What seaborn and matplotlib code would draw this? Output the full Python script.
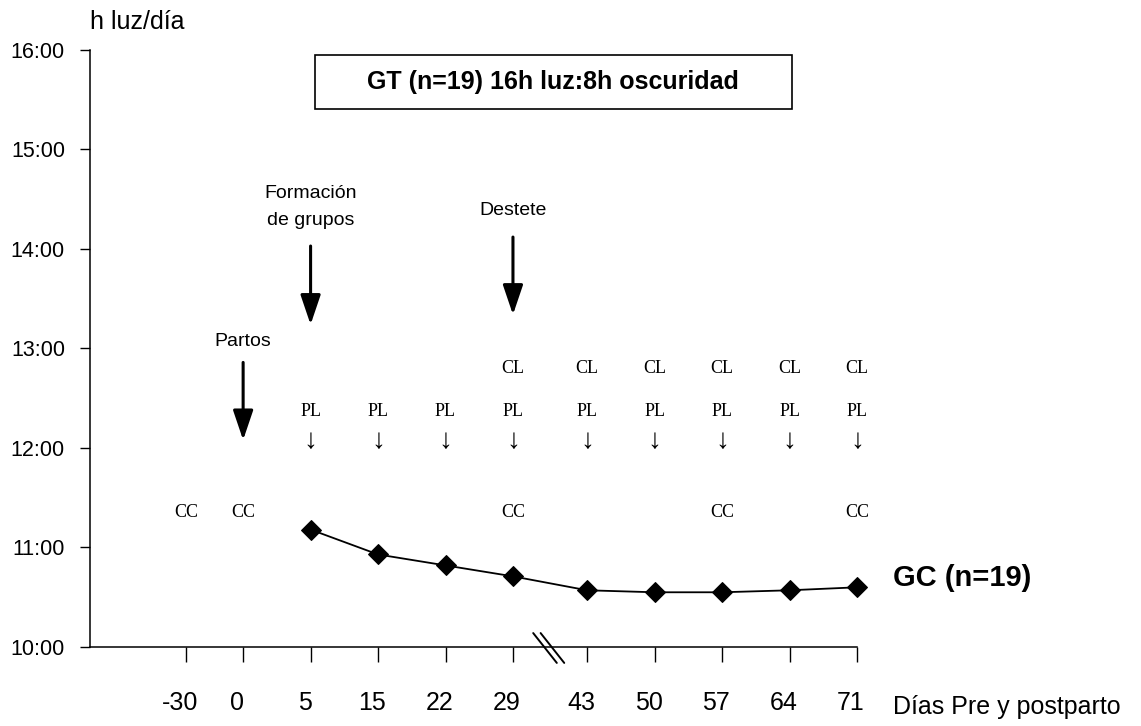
import numpy as np
import pandas as pd
import seaborn as sns
import matplotlib.pyplot as plt
from matplotlib.patches import Rectangle
from matplotlib.transforms import ScaledTranslation

# Days pre/postpartum shown on the x axis
days = ['-30', '0', '5', '15', '22', '29', '43', '50', '57', '64', '71']
# GC hours of light per day (decimal hours), measured from day 5 on
gc_days = ['5', '15', '22', '29', '43', '50', '57', '64', '71']
gc_hours = [11.18, 10.93, 10.82, 10.71, 10.57, 10.55, 10.55, 10.57, 10.60]
# sampling marks above the curve
cl_days = ['29', '43', '50', '57', '64', '71']
pl_days = ['5', '15', '22', '29', '43', '50', '57', '64', '71']
cc_days = ['-30', '0', '29', '57', '71']
hour_ticks = [10, 11, 12, 13, 14, 15, 16]

sns.set_style('ticks')
plt.rcParams['font.family'] = ['Liberation Sans', 'DejaVu Sans']
plt.rcParams['text.color'] = 'black'
plt.rcParams['xtick.color'] = 'black'
plt.rcParams['ytick.color'] = 'black'
plt.rcParams['axes.edgecolor'] = 'black'

# x layout: categorical slots, -30 a bit closer, small gap at the axis break
xpos = np.arange(len(days), dtype=float)
xpos[0] = 0.15
xpos[6:] += 0.1
xmap = dict(zip(days, xpos))

df = pd.DataFrame({'x': [xmap[d] for d in gc_days], 'h': gc_hours})

fig = plt.figure(figsize=(11.41, 7.26), dpi=100)
ax = fig.add_axes([90 / 1141, 79 / 726, 767 / 1141, 597 / 726])

sns.lineplot(data=df, x='x', y='h', marker='D', markersize=10, color='black',
             linewidth=1.3, markeredgecolor='black', ax=ax)
for ln in ax.lines:
    ln.set_clip_on(False)

ax.set_xlim(-1.27, xpos[-1])
ax.set_ylim(10, 16)
ax.set_xticks(xpos)
ax.set_xticklabels(days)
ax.set_yticks(hour_ticks)
ax.set_yticklabels([f'{h}:00' for h in hour_ticks])
ax.set_xlabel('')
ax.set_ylabel('')
sns.despine(ax=ax)
for s in ['left', 'bottom']:
    ax.spines[s].set_linewidth(1.1)
ax.tick_params(axis='x', length=11, width=1.0, pad=21, labelsize=18)
ax.tick_params(axis='y', length=7, width=1.0, pad=11, labelsize=15.5)
shift = ScaledTranslation(-6 / 100, 0, fig.dpi_scale_trans)
for lab in ax.get_xticklabels():
    lab.set_transform(lab.get_transform() + shift)

# axis titles
ax.text(0, 1.047, 'h luz/día', transform=ax.transAxes, ha='left', va='center', fontsize=18)
ax.text(10.63, -0.101, 'Días Pre y postparto', transform=ax.get_xaxis_transform(),
        ha='left', va='center', fontsize=18, clip_on=False)
ax.text(10.63, 10.69, 'GC (n=19)', ha='left', va='center', fontsize=21,
        fontweight='bold', clip_on=False)

# boxed title
ax.add_patch(Rectangle((0.293, 0.901), 0.622, 0.091, transform=ax.transAxes,
                       fill=False, edgecolor='black', linewidth=1.2, clip_on=False))
ax.text(0.604, 0.946, 'GT (n=19) 16h luz:8h oscuridad', transform=ax.transAxes,
        ha='center', va='center', fontsize=18, fontweight='bold')

# event arrows
big = dict(arrowstyle='-|>,head_length=0.65,head_width=0.22', lw=2.2, color='black',
           mutation_scale=28, shrinkA=0, shrinkB=0)
events = [('0', 'Partos', 13.07, 12.86, 12.08),
          ('5', 'Formación\nde grupos', 14.42, 14.03, 13.24),
          ('29', 'Destete', 14.39, 14.12, 13.34)]
for d, label, ty, y0, y1 in events:
    x = xmap[d]
    ax.text(x, ty, label, ha='center', va='center', fontsize=14, linespacing=1.75)
    ax.annotate('', xy=(x, y1), xytext=(x, y0), arrowprops=big)

serif = ['Liberation Serif', 'DejaVu Serif']
for d in cl_days:
    ax.text(xmap[d], 12.80, 'CL', ha='center', va='center', fontsize=13, family=serif)
for d in pl_days:
    ax.text(xmap[d], 12.37, 'PL', ha='center', va='center', fontsize=13, family=serif)
    ax.text(xmap[d], 12.07, '↓', ha='center', va='center', fontsize=20, family=serif)
for d in cc_days:
    ax.text(xmap[d], 11.35, 'CC', ha='center', va='center', fontsize=13, family=serif)

# axis break marks between 29 and 43
for dx in (0, 0.11):
    ax.plot([5.30 + dx, 5.65 + dx], [10.14, 9.84], color='black', lw=1.4, clip_on=False)

fig.savefig('out.png', dpi=100)
